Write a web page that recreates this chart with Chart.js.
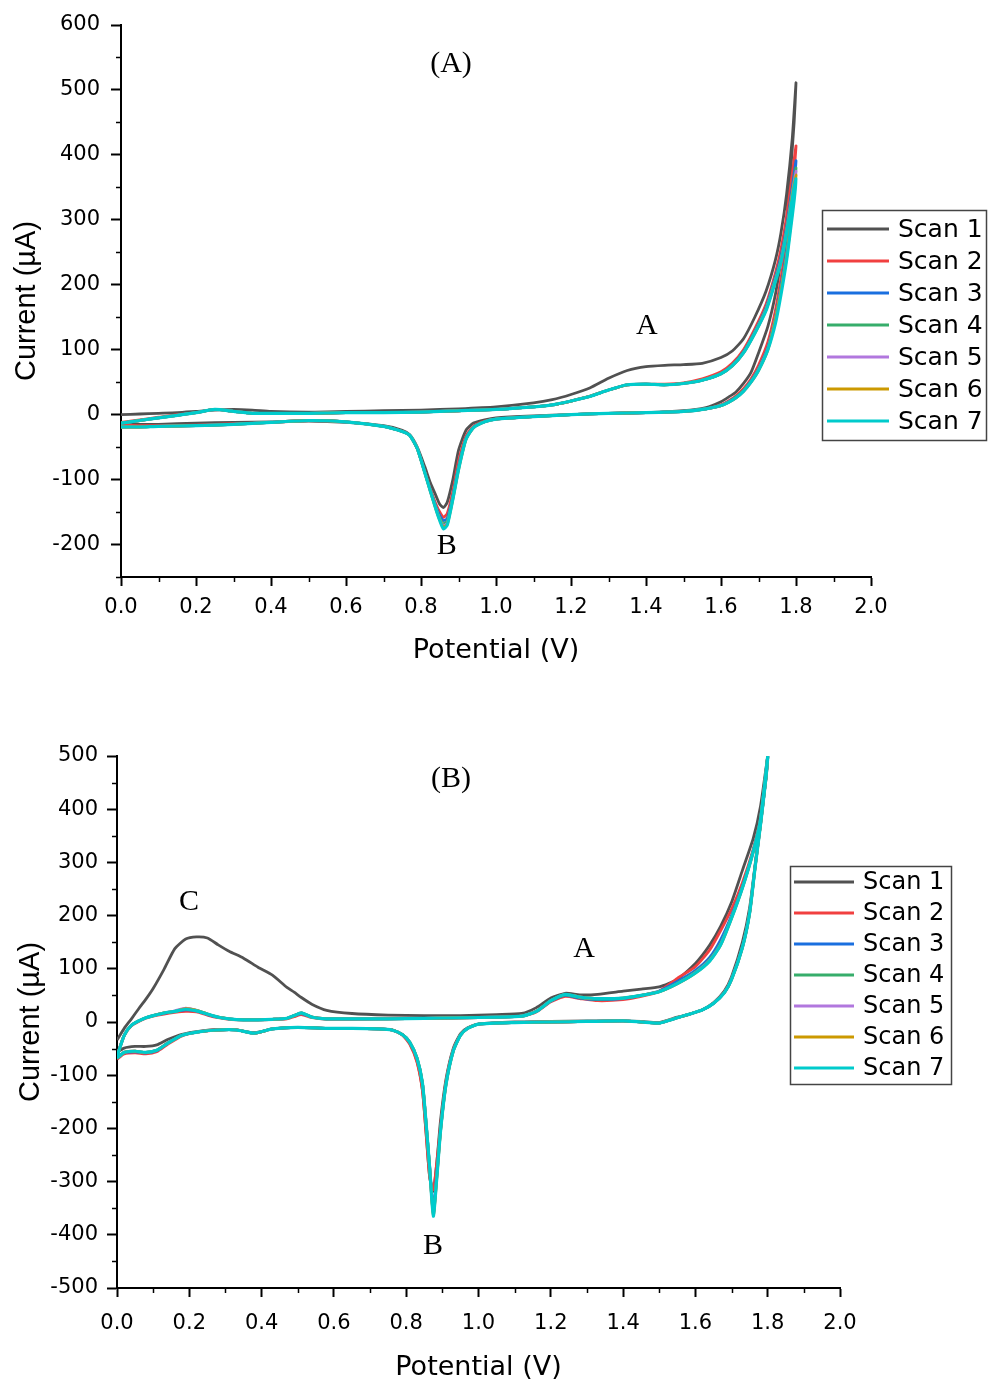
<!DOCTYPE html>
<html><head><meta charset="utf-8">
<script src="https://cdn.jsdelivr.net/npm/chart.js@4.4.1/dist/chart.umd.min.js"></script>
<style>
html,body{margin:0;padding:0;background:#fff;width:988px;height:1381px;overflow:hidden}
canvas{position:absolute;left:0}
#ca{top:0}
#cb{top:690px}
</style></head><body>
<canvas id="ca" width="988" height="690"></canvas>
<canvas id="cb" width="988" height="691"></canvas>
<script>
// ---------- shared ----------
const scanLabels = ['Scan 1','Scan 2','Scan 3','Scan 4','Scan 5','Scan 6','Scan 7'];
const scanColors = ['#515151','#F14040','#1A6FDF','#37AD6B','#B177DE','#CC9900','#00CBCC'];
const xTickValues = [0.0,0.2,0.4,0.6,0.8,1.0,1.2,1.4,1.6,1.8,2.0];
const yTicksA = [-200,-100,0,100,200,300,400,500,600];
const yTicksB = [-500,-400,-300,-200,-100,0,100,200,300,400,500];

// ---------- panel (A) : potential sweep 0 -> 1.8 -> 0 V ----------
const potentialA = [
  0,0.05,0.1,0.15,0.2,0.25,0.3,0.35,0.4,0.5,0.6,0.7,0.8,0.9,1.0,1.1,1.15,1.2,1.25,1.3,1.35,1.4,1.45,1.5,1.55,1.6,1.63,1.66,1.69,1.72,1.745,1.76,1.775,1.79,1.8,
  1.795,1.785,1.775,1.76,1.745,1.725,1.7,1.68,1.66,1.64,1.62,1.6,1.56,1.5,1.4,1.3,1.2,1.1,1.0,0.97,0.94,0.92,0.9,0.885,0.87,0.86,0.85,0.84,0.825,0.81,0.79,0.77,0.75,0.7,0.6,0.5,0.4,0.3,0.2,0.1,0.05,0
];
const currentA1 = [
  0,1,2,3,5,7,8,7,5,4,5,6,7,9,12,18,23,31,41,56,68,74,76,77,79,88,98,117,150,190,238,280,340,425,511,
  450,370,300,238,185,136,95,65,48,35,27,20,11,6,3,2,0,-2,-5,-8,-13,-24,-55,-100,-135,-143,-138,-125,-105,-80,-50,-31,-24,-17,-12,-10,-11,-12,-13,-15,-15,-14
];
const currentA2 = [
  -12,-8,-4,0,3,8,5,2,2,2,3,3,4,6,8,12,15,21,28,38,46,47,47,49,55,66,79,100,132,170,218,255,305,370,414,
  375,320,268,210,160,112,76,55,40,29,21,15,9,5,3,2,0,-3,-7,-10,-18,-33,-72,-118,-152,-158,-150,-138,-115,-88,-52,-32,-26,-18,-11,-9,-12,-14,-16,-17,-17,-16
];
const currentA3 = [
  -13,-9,-5,-1,3,8,5,2,2,2,3,3,4,6,8,12,15,21,28,38,46,47,46,48,53,63,76,97,128,165,212,244,290,350,391,
  355,300,252,198,150,104,71,52,37,27,20,14,9,5,3,2,0,-3,-7,-11,-19,-36,-80,-125,-160,-163,-155,-142,-116,-88,-52,-32,-26,-18,-11,-9,-12,-15,-17,-18,-18,-18
];
const currentA4 = [
  -13,-9,-5,-1,3,8,5,2,2,2,3,3,4,6,8,12,15,21,28,38,46,47,46,48,53,63,76,96,127,163,209,240,286,343,380,
  348,294,247,194,148,102,70,51,37,27,19,14,9,5,3,2,0,-3,-7,-11,-20,-37,-82,-127,-164,-168,-159,-144,-117,-89,-52,-32,-26,-18,-11,-9,-12,-15,-17,-18,-19,-19
];
const currentA5 = [
  -13,-9,-5,-1,3,8,5,2,2,2,3,3,4,6,8,12,15,21,28,38,46,47,46,48,53,63,75,95,126,162,207,238,283,340,375,
  343,291,244,192,147,101,69,50,36,26,19,14,9,5,3,2,0,-3,-7,-11,-20,-38,-84,-129,-167,-171,-161,-145,-118,-89,-52,-32,-26,-18,-11,-9,-12,-15,-17,-18,-19,-19
];
const currentA6 = [
  -13,-9,-5,-1,3,8,5,2,2,2,3,3,4,6,8,12,15,21,28,38,46,47,46,48,53,63,75,95,125,161,206,236,281,337,369,
  337,288,242,191,146,100,68,50,36,26,19,14,9,5,3,2,0,-3,-7,-11,-20,-38,-85,-130,-169,-173,-162,-146,-118,-89,-52,-32,-26,-18,-11,-9,-12,-15,-17,-18,-19,-19
];
const currentA7 = [
  -13,-9,-5,-1,3,8,5,2,2,2,3,3,4,6,8,12,15,21,28,38,46,47,46,48,53,63,75,95,125,160,205,235,280,333,363,
  330,283,238,185,140,100,68,50,36,26,19,14,9,5,3,2,0,-3,-7,-11,-20,-38,-85,-130,-170,-176,-163,-146,-118,-89,-52,-32,-26,-18,-11,-9,-12,-15,-17,-18,-19,-19
];

// ---------- panel (B) ----------
const potentialB = [
  0,0.02,0.04,0.06,0.08,0.1,0.13,0.16,0.19,0.22,0.25,0.28,0.31,0.35,0.39,0.43,0.47,0.49,0.51,0.54,0.58,0.65,0.75,0.85,0.95,1.05,1.12,1.16,1.2,1.24,1.28,1.33,1.4,1.45,1.5,1.55,1.6,1.64,1.67,1.7,1.73,1.76,1.78,1.8,
  1.795,1.78,1.765,1.75,1.73,1.7,1.68,1.65,1.62,1.58,1.55,1.5,1.45,1.4,1.3,1.2,1.1,1.0,0.97,0.95,0.93,0.91,0.895,0.885,0.875,0.865,0.855,0.845,0.83,0.81,0.79,0.76,0.72,0.65,0.58,0.5,0.43,0.38,0.33,0.28,0.23,0.18,0.14,0.11,0.08,0.05,0.02,0
];
const currentB1 = [
  -34,-12,6,25,43,63,99,138,156,160,158,145,133,120,103,88,65,56,46,33,22,16,13,12,12,14,16,27,45,54,51,52,58,62,66,80,110,145,180,225,285,345,405,499,
  455,380,295,215,150,85,58,36,23,14,9,-1,1,2,2,1,0,-4,-11,-22,-50,-108,-185,-262,-318,-292,-208,-128,-74,-40,-24,-15,-13,-12,-12,-10,-13,-20,-15,-14,-17,-23,-33,-43,-46,-46,-49,-57
];
const currentB2 = [
  -62,-25,-7,1,7,11,15,18,20,19,13,8,5,4,4,5,6,10,14,8,5,5,6,7,8,9,11,19,38,48,44,40,42,48,58,82,104,136,172,212,262,325,383,499,
  458,372,292,207,142,82,56,36,23,14,8,-2,0,2,1,0,-1,-4,-12,-24,-52,-112,-195,-262,-315,-292,-210,-130,-76,-42,-25,-15,-13,-12,-12,-10,-13,-21,-15,-15,-18,-26,-42,-56,-60,-58,-60,-70
];
const currentB3 = [
  -64,-25,-6,2,8,12,16,20,23,21,14,9,6,4,4,5,7,12,16,9,6,6,6,7,8,9,11,20,39,50,45,42,44,50,58,76,97,122,155,200,255,322,382,499,
  458,371,291,206,141,81,55,35,23,14,8,-2,0,2,1,0,-1,-4,-12,-25,-54,-116,-202,-282,-350,-272,-190,-116,-69,-39,-24,-15,-13,-12,-12,-10,-13,-21,-15,-15,-18,-25,-40,-54,-58,-56,-58,-68
];
const currentB4 = [
  -65,-25,-6,2,8,12,17,20,25,22,15,9,6,4,4,5,7,12,17,9,6,6,6,7,8,9,11,20,40,51,46,43,45,50,57,73,94,118,148,197,253,321,381,499,
  458,370,290,205,140,80,55,35,23,14,8,-2,0,2,1,0,-1,-4,-12,-25,-55,-117,-204,-287,-360,-274,-190,-115,-68,-38,-24,-15,-13,-12,-12,-10,-13,-21,-15,-15,-18,-25,-40,-53,-57,-55,-57,-68
];
const currentB5 = [
  -65,-25,-6,2,8,12,17,21,26,22,15,9,6,4,4,5,7,12,17,9,6,6,6,7,8,9,11,20,40,52,47,44,45,50,57,72,93,116,146,196,252,320,380,499,
  458,370,290,205,140,80,55,35,23,14,8,-2,0,2,1,0,-1,-4,-12,-25,-55,-118,-205,-289,-362,-275,-190,-115,-68,-38,-24,-15,-13,-12,-12,-10,-13,-21,-15,-15,-18,-25,-40,-53,-57,-55,-57,-68
];
const currentB6 = [
  -65,-25,-6,2,8,12,17,20,25,22,15,9,6,4,4,5,7,12,17,9,6,6,6,7,8,9,11,20,40,52,47,44,45,50,57,72,92,115,145,195,252,320,380,499,
  458,370,290,205,140,80,55,35,23,14,8,-2,0,2,1,0,-1,-4,-12,-25,-55,-118,-205,-290,-364,-275,-190,-115,-68,-38,-24,-15,-13,-12,-12,-10,-13,-21,-15,-15,-18,-25,-40,-53,-57,-55,-57,-68
];
const currentB7 = [
  -65,-25,-6,2,8,12,17,20,24,21,15,9,6,4,4,5,7,12,17,9,6,6,6,7,8,9,11,20,40,52,47,44,45,50,57,72,92,115,145,195,252,320,380,499,
  458,370,290,205,140,80,55,35,23,14,8,-2,0,2,1,0,-1,-4,-12,-25,-55,-118,-205,-290,-365,-275,-190,-115,-68,-38,-24,-15,-13,-12,-12,-10,-13,-21,-15,-15,-18,-25,-40,-53,-57,-55,-57,-68
];

// ---------- plugins ----------
const minorTicks = {
  id: 'minorTicks',
  afterDraw(chart, args, o) {
    const ctx = chart.ctx, xs = chart.scales.x, ys = chart.scales.y;
    const yMajor = new Set(o.yMajor), xMajor = o.xMajor.map(v => Math.round(v * 10));
    ctx.save();
    ctx.strokeStyle = '#000';
    ctx.lineWidth = 1.5;
    ys.ticks.forEach(t => {
      if (!yMajor.has(Math.round(t.value))) {
        const p = Math.round(ys.getPixelForValue(t.value)) + 0.5;
        ctx.beginPath(); ctx.moveTo(ys.right, p); ctx.lineTo(ys.right - 5, p); ctx.stroke();
      }
    });
    xs.ticks.forEach(t => {
      if (!xMajor.includes(Math.round(t.value * 10))) {
        const p = Math.round(xs.getPixelForValue(t.value)) + 0.5;
        ctx.beginPath(); ctx.moveTo(p, xs.top); ctx.lineTo(p, xs.top + 5); ctx.stroke();
      }
    });
    ctx.restore();
  }
};
const textLabels = {
  id: 'textLabels',
  afterDatasetsDraw(chart, args, o) {
    const ctx = chart.ctx;
    ctx.save();
    ctx.fillStyle = '#000';
    ctx.textAlign = 'center';
    ctx.textBaseline = 'middle';
    (o.items || []).forEach(it => {
      ctx.font = it.font;
      ctx.fillText(it.text, chart.scales.x.getPixelForValue(it.x), chart.scales.y.getPixelForValue(it.y));
    });
    ctx.restore();
  }
};
const scanLegend = {
  id: 'scanLegend',
  afterDraw(chart, args, o) {
    const ctx = chart.ctx;
    ctx.save();
    ctx.fillStyle = '#fff';
    ctx.fillRect(o.x, o.y, o.w, o.h);
    ctx.strokeStyle = '#444';
    ctx.lineWidth = 1.5;
    ctx.strokeRect(o.x, o.y, o.w, o.h);
    ctx.font = o.font;
    ctx.textBaseline = 'middle';
    ctx.textAlign = 'left';
    chart.data.datasets.forEach((d, i) => {
      const yy = o.row0 + i * o.gap;
      ctx.strokeStyle = d.borderColor;
      ctx.lineWidth = 3;
      ctx.beginPath(); ctx.moveTo(o.lx0, yy); ctx.lineTo(o.lx1, yy); ctx.stroke();
      ctx.fillStyle = '#000';
      ctx.fillText(d.label, o.tx, yy + 1);
    });
    ctx.restore();
  }
};

const tickFont = {family: '"DejaVu Sans", sans-serif', size: 21};
const serif30 = '30px "Liberation Serif", "Times New Roman", serif';

function makeChart(id, P) {
  const xMajorSet = xTickValues.map(v => Math.round(v * 10));
  return new Chart(document.getElementById(id), {
    type: 'scatter',
    data: {
      datasets: P.series.map((cur, i) => ({
        label: scanLabels[i],
        data: P.pot.map((v, k) => ({x: v, y: cur[k]})),
        showLine: true,
        borderColor: scanColors[i],
        backgroundColor: scanColors[i],
        borderWidth: i === 6 ? 3.2 : 2.8,
        pointRadius: 0,
        tension: 0.2,
        order: 6 - i
      }))
    },
    options: {
      responsive: false,
      animation: false,
      events: [],
      layout: {padding: P.padding},
      plugins: {
        legend: {display: false},
        tooltip: {enabled: false},
        minorTicks: {yMajor: P.yMajor, xMajor: xTickValues},
        textLabels: {items: P.labels},
        scanLegend: P.legend
      },
      scales: {
        x: {
          type: 'linear', min: 0, max: 2,
          afterFit: s => { s.height = P.xh; },
          ticks: {
            stepSize: 0.1, autoSkip: false, maxRotation: 0, padding: P.xpad, color: '#000', font: tickFont,
            callback: v => xMajorSet.includes(Math.round(v * 10)) ? v.toFixed(1) : ''
          },
          grid: {
            drawOnChartArea: false, tickLength: 9, tickWidth: 2,
            tickColor: c => (c.tick && xMajorSet.includes(Math.round(c.tick.value * 10))) ? '#000' : 'rgba(0,0,0,0)'
          },
          border: {color: '#000', width: 2},
          title: {display: true, text: 'Potential (V)', color: '#000',
            font: {family: '"DejaVu Sans", sans-serif', size: 27, lineHeight: 1},
            padding: {top: 0, bottom: P.xtpad}}
        },
        y: {
          type: 'linear', min: P.ymin, max: P.ymax,
          afterFit: s => { s.width = P.yw; },
          ticks: {
            stepSize: 50, autoSkip: false, padding: P.ypad, color: '#000', font: tickFont,
            callback: v => P.yMajor.includes(Math.round(v)) ? String(v) : ''
          },
          grid: {
            drawOnChartArea: false, tickLength: 10, tickWidth: 2,
            tickColor: c => (c.tick && P.yMajor.includes(Math.round(c.tick.value))) ? '#000' : 'rgba(0,0,0,0)'
          },
          border: {color: '#000', width: 2},
          title: {display: true, text: 'Current (\u00B5A)', color: '#000',
            font: {family: '"Liberation Sans", Arial, sans-serif', size: 29, lineHeight: 1},
            padding: {top: P.ytpad, bottom: 0}}
        }
      }
    },
    plugins: [minorTicks, textLabels, scanLegend]
  });
}

makeChart('ca', {
  pot: potentialA,
  series: [currentA1, currentA2, currentA3, currentA4, currentA5, currentA6, currentA7],
  ymin: -250, ymax: 600, yMajor: yTicksA,
  padding: {left: 0, top: 25, right: 117, bottom: 0},
  yw: 121, xh: 113, xpad: 9, ypad: 11, xtpad: 26, ytpad: 12,
  labels: [
    {text: '(A)', x: 0.88, y: 540, font: serif30},
    {text: 'A', x: 1.402, y: 137, font: serif30},
    {text: 'B', x: 0.869, y: -203, font: serif30}
  ],
  legend: {x: 822.5, y: 210.5, w: 164, h: 230, row0: 229, gap: 32, lx0: 827, lx1: 889, tx: 898,
    font: '25px "DejaVu Sans", sans-serif'}
});

makeChart('cb', {
  pot: potentialB,
  series: [currentB1, currentB2, currentB3, currentB4, currentB5, currentB6, currentB7],
  ymin: -500, ymax: 500, yMajor: yTicksB,
  padding: {left: 0, top: 66, right: 148, bottom: 0},
  yw: 117, xh: 93, xpad: 14, ypad: 9, xtpad: 0, ytpad: 16,
  labels: [
    {text: '(B)', x: 0.924, y: 457, font: serif30},
    {text: 'C', x: 0.199, y: 226, font: serif30},
    {text: 'A', x: 1.292, y: 137, font: serif30},
    {text: 'B', x: 0.874, y: -422, font: serif30}
  ],
  legend: {x: 790.5, y: 176.5, w: 161, h: 218, row0: 192, gap: 31, lx0: 794, lx1: 854, tx: 863,
    font: '24px "DejaVu Sans", sans-serif'}
});
</script>
</body></html>
